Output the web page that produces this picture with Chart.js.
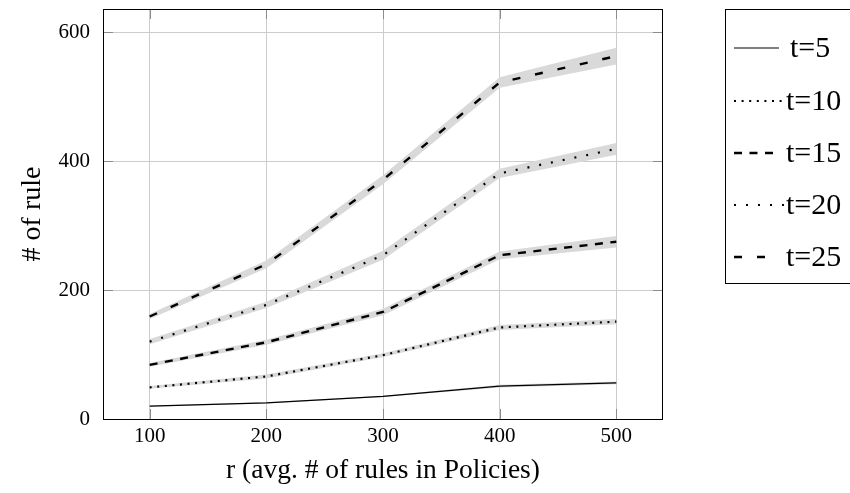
<!DOCTYPE html>
<html>
<head>
<meta charset="utf-8">
<script src="https://cdn.jsdelivr.net/npm/chart.js@4/dist/chart.umd.min.js"></script>
<style>
  html, body { margin: 0; padding: 0; background: #fff; }
  canvas { display: block; }
</style>
</head>
<body>
<canvas id="ruleChart" width="850" height="493"></canvas>
<script>
// x positions (avg. # of rules in policies)
const rValues = [100, 200, 300, 400, 500];
const xTicks = [100, 200, 300, 400, 500];
const yTicks = [0, 200, 400, 600];
const seriesLabels = ["t=5", "t=10", "t=15", "t=20", "t=25"];

// mean # of rules
const t5 = [20, 25, 35, 51, 56];
const t10 = [49, 66, 99, 142, 151];
const t15 = [84, 119, 166, 254, 275];
const t20 = [120, 177, 254, 381, 419];
const t25 = [159, 240, 371, 522, 563];

// half-width of the gray band around each line
const s5 = [1, 1, 1, 2, 2];
const s10 = [2, 3, 3, 4, 4];
const s15 = [3, 4, 5, 6, 9];
const s20 = [4, 5, 7, 7, 9];
const s25 = [4, 6, 7, 8, 13];

const means = [t5, t10, t15, t20, t25];
const spreads = [s5, s10, s15, s20, s25];

// line styles: dash pattern, width
const styles = [
  { dash: [], width: 1.2 },
  { dash: [2, 5.6], width: 2.2 },
  { dash: [8, 7.5], width: 2.4 },
  { dash: [2, 10], width: 2.2 },
  { dash: [8, 15], width: 2.4 }
];

const SERIF = "'Liberation Serif', 'Times New Roman', serif";
const BAND = "#d9d9d9";

function points(values) {
  return rValues.map((r, i) => ({ x: r, y: values[i] }));
}

const datasets = [];
// bands first (upper fills down to the next dataset = lower)
means.forEach((m, k) => {
  datasets.push({
    label: seriesLabels[k] + " upper",
    data: points(m.map((v, i) => v + spreads[k][i])),
    borderWidth: 0,
    pointRadius: 0,
    backgroundColor: BAND,
    fill: "+1",
    order: 2
  });
  datasets.push({
    label: seriesLabels[k] + " lower",
    data: points(m.map((v, i) => v - spreads[k][i])),
    borderWidth: 0,
    pointRadius: 0,
    backgroundColor: BAND,
    fill: false,
    order: 2
  });
});
// the lines on top
means.forEach((m, k) => {
  datasets.push({
    label: seriesLabels[k],
    data: points(m),
    borderColor: "#000",
    borderWidth: styles[k].width,
    borderDash: styles[k].dash,
    borderCapStyle: "butt",
    pointRadius: 0,
    fill: false,
    tension: 0,
    order: 1
  });
});

// frame, inner tick marks and the boxed legend
const framePlugin = {
  id: "frame",
  afterDraw(chart) {
    const { ctx, chartArea: a, scales } = chart;
    ctx.save();
    // tick marks inside the frame
    ctx.strokeStyle = "#8c8c8c";
    ctx.lineWidth = 1;
    const tl = 10;
    xTicks.forEach(v => {
      const px = Math.round(scales.x.getPixelForValue(v)) + 0.5;
      ctx.beginPath();
      ctx.moveTo(px, a.bottom); ctx.lineTo(px, a.bottom - tl);
      ctx.moveTo(px, a.top); ctx.lineTo(px, a.top + tl);
      ctx.stroke();
    });
    yTicks.forEach(v => {
      const py = Math.round(scales.y.getPixelForValue(v)) + 0.5;
      ctx.beginPath();
      ctx.moveTo(a.left, py); ctx.lineTo(a.left + tl, py);
      ctx.moveTo(a.right, py); ctx.lineTo(a.right - tl, py);
      ctx.stroke();
    });
    // frame
    ctx.strokeStyle = "#000";
    ctx.lineWidth = 1;
    ctx.strokeRect(Math.round(a.left) + 0.5, Math.round(a.top) + 0.5,
      Math.round(a.right - a.left) - 1, Math.round(a.bottom - a.top));

    // legend box
    ctx.strokeRect(725.5, 9.5, 200, 274);
    ctx.font = "30px " + SERIF;
    ctx.textBaseline = "middle";
    ctx.textAlign = "left";
    ctx.fillStyle = "#000";
    const rowY = [48, 101, 153, 205, 257];
    seriesLabels.forEach((lab, k) => {
      ctx.beginPath();
      ctx.setLineDash(styles[k].dash);
      ctx.lineCap = "butt";
      ctx.lineWidth = styles[k].width;
      ctx.moveTo(734, rowY[k]);
      ctx.lineTo(k === 1 || k === 3 ? 784 : 779, rowY[k]);
      ctx.stroke();
      ctx.setLineDash([]);
      ctx.fillText(lab, k === 0 ? 790 : 786, rowY[k] + 1);
    });
    ctx.restore();
  }
};

new Chart(document.getElementById("ruleChart"), {
  type: "line",
  data: { datasets: datasets },
  options: {
    responsive: false,
    animation: false,
    layout: { padding: { left: 0, top: 9, right: 187, bottom: 0 } },
    plugins: {
      legend: { display: false },
      tooltip: { enabled: false },
      filler: { propagate: false }
    },
    scales: {
      x: {
        type: "linear",
        min: 60,
        max: 540,
        afterBuildTicks: scale => { scale.ticks = xTicks.map(v => ({ value: v })); },
        afterFit: scale => {
          scale.height = 74;
          scale.paddingLeft = 0;
          scale.paddingRight = 0;
        },
        grid: { color: "#cccccc", lineWidth: 1, drawTicks: false },
        border: { display: false },
        ticks: {
          padding: 5,
          color: "#000",
          font: { family: SERIF, size: 21 },
          maxRotation: 0
        },
        title: {
          display: true,
          text: "r (avg. # of rules in Policies)",
          color: "#000",
          font: { family: SERIF, size: 27.5 },
          padding: { top: 0, bottom: 6 }
        }
      },
      y: {
        type: "linear",
        min: 0,
        max: 636,
        afterBuildTicks: scale => { scale.ticks = yTicks.map(v => ({ value: v })); },
        afterFit: scale => {
          scale.width = 103;
          scale.paddingTop = 0;
          scale.paddingBottom = 0;
        },
        grid: { color: "#cccccc", lineWidth: 1, drawTicks: false },
        border: { display: false },
        ticks: {
          padding: 13,
          color: "#000",
          font: { family: SERIF, size: 21 }
        },
        title: {
          display: true,
          text: "# of rule",
          color: "#000",
          font: { family: SERIF, size: 28 },
          padding: { top: 16, bottom: 0 }
        }
      }
    }
  },
  plugins: [framePlugin]
});
</script>
</body>
</html>
